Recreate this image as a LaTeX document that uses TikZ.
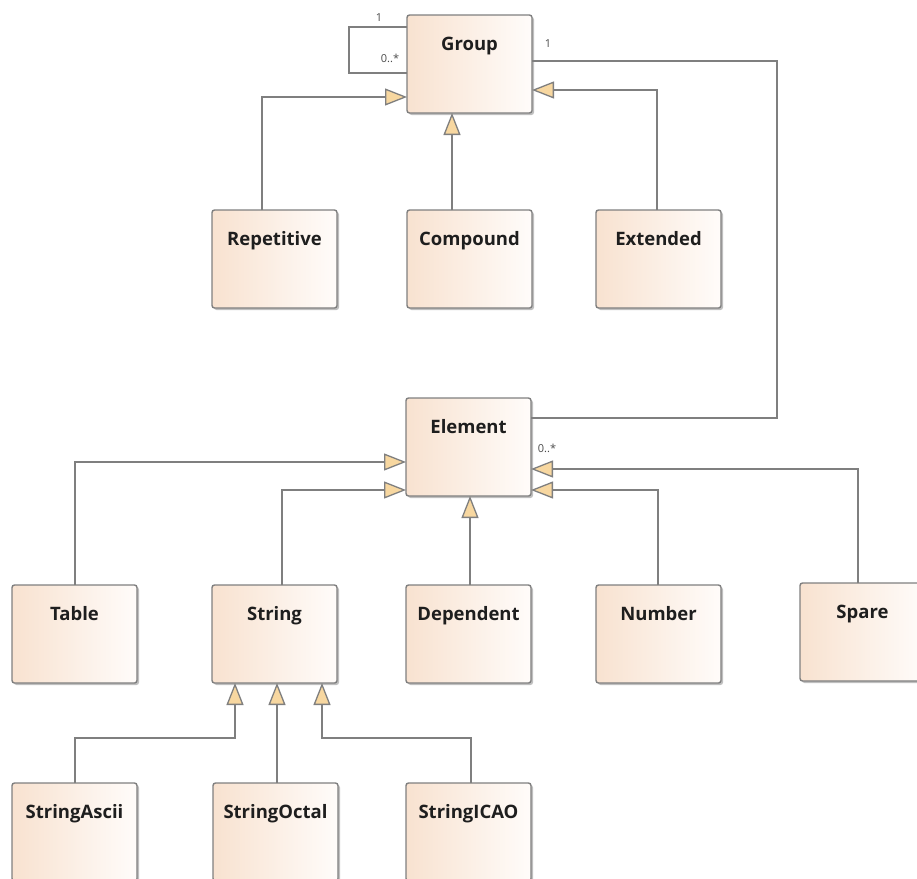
\documentclass[tikz,border=0pt]{standalone}
\usepackage{fontspec}
\setmainfont{Open Sans}
\usetikzlibrary{arrows.meta,shadows,calc}
\definecolor{boxl}{HTML}{F8E2D0}
\definecolor{boxr}{HTML}{FFFCFA}
\definecolor{edgec}{HTML}{7F7F7F}
\definecolor{tri}{HTML}{F7D7A0}
\definecolor{txt}{HTML}{1E1E1E}
\tikzset{
 cls/.style={draw=edgec, line width=1.4pt, rounded corners=2.5pt, left color=boxl, right color=boxr,
   minimum width=125pt, minimum height=98pt, inner sep=0pt, outer sep=0pt, anchor=north west,
   general shadow={fill=black!25, shadow xshift=2pt, shadow yshift=-2pt}},
 ttl/.style={font=\fontsize{18.5}{21}\selectfont\bfseries, text=txt, inner sep=0pt, anchor=base},
 conn/.style={draw=edgec, line width=1.3pt},
 gen/.style={conn, -{Triangle[length=22pt,width=17pt,fill=tri]}},
 mult/.style={font=\fontsize{11}{12}\selectfont, text=txt!80, inner sep=0pt}
}
\begin{document}
\begin{tikzpicture}[x=1pt,y=-1pt]
\useasboundingbox (0,0) rectangle (917,878);
\clip (0,0) rectangle (917,878);
% boxes
\node[cls] (group) at (407,15) {};
\node[cls] (rep) at (212,210) {};
\node[cls] (comp) at (407,210) {};
\node[cls] (ext) at (596,210) {};
\node[cls] (element) at (406,398) {};
\node[cls] (tab) at (12,585) {};
\node[cls] (str) at (212,585) {};
\node[cls] (dep) at (406,585) {};
\node[cls] (num) at (596,585) {};
\node[cls] (spare) at (800,583) {};
\node[cls] (sa) at (12,783) {};
\node[cls] (so) at (213,783) {};
\node[cls] (si) at (406,783) {};
% titles
\node[ttl] (groupT) at ($(group.north)+(0,35)$) {Group};
\node[ttl] (repT) at ($(rep.north)+(0,35)$) {Repetitive};
\node[ttl] (compT) at ($(comp.north)+(0,35)$) {Compound};
\node[ttl] (extT) at ($(ext.north)+(0,35)$) {Extended};
\node[ttl] (elementT) at ($(element.north)+(0,35)$) {Element};
\node[ttl] (tabT) at ($(tab.north)+(0,35)$) {Table};
\node[ttl] (strT) at ($(str.north)+(0,35)$) {String};
\node[ttl] (depT) at ($(dep.north)+(0,35)$) {Dependent};
\node[ttl] (numT) at ($(num.north)+(0,35)$) {Number};
\node[ttl] (spareT) at ($(spare.north)+(0,35)$) {Spare};
\node[ttl] (saT) at ($(sa.north)+(0,35)$) {StringAscii};
\node[ttl] (soT) at ($(so.north)+(0,35)$) {StringOctal};
\node[ttl] (siT) at ($(si.north)+(0,35)$) {StringICAO};
% associations
\draw[conn] ($(group.north west)+(0,12)$) -| ++(-58,46) -- ($(group.north west)+(0,58)$);
\node[mult] (m1) at (379,18) {1};
\node[mult] (m2) at (390,58) {0..*};
\draw[conn] ($(group.north east)+(0,46)$) -- ++(245,0) |- ($(element.north east)+(0,20)$);
\node[mult] (m3) at (548,44) {1};
\node[mult] (m4) at (547,448) {0..*};
% generalizations
\draw[gen] ($(rep.north west)+(50,0)$) |- ($(group.north west)+(0,82)$);
\draw[gen] ($(comp.north west)+(45,0)$) -- ($(group.south west)+(45,0)$);
\draw[gen] ($(ext.north west)+(61,0)$) |- ($(group.north east)+(0,75)$);
\draw[gen] ($(tab.north west)+(63,0)$) |- ($(element.north west)+(0,64)$);
\draw[gen] ($(str.north west)+(70,0)$) |- ($(element.north west)+(0,92)$);
\draw[gen] ($(dep.north west)+(64,0)$) -- ($(element.south west)+(64,0)$);
\draw[gen] ($(num.north west)+(62,0)$) |- ($(element.north east)+(0,92)$);
\draw[gen] ($(spare.north west)+(58,0)$) |- ($(element.north east)+(0,71)$);
\draw[gen] ($(sa.north west)+(63,0)$) -- ++(0,-45) -| ($(str.south west)+(23,0)$);
\draw[gen] ($(so.north west)+(64,0)$) -- ($(str.south west)+(65,0)$);
\draw[gen] ($(si.north west)+(65,0)$) -- ++(0,-45) -| ($(str.south west)+(110,0)$);
\end{tikzpicture}
\end{document}
